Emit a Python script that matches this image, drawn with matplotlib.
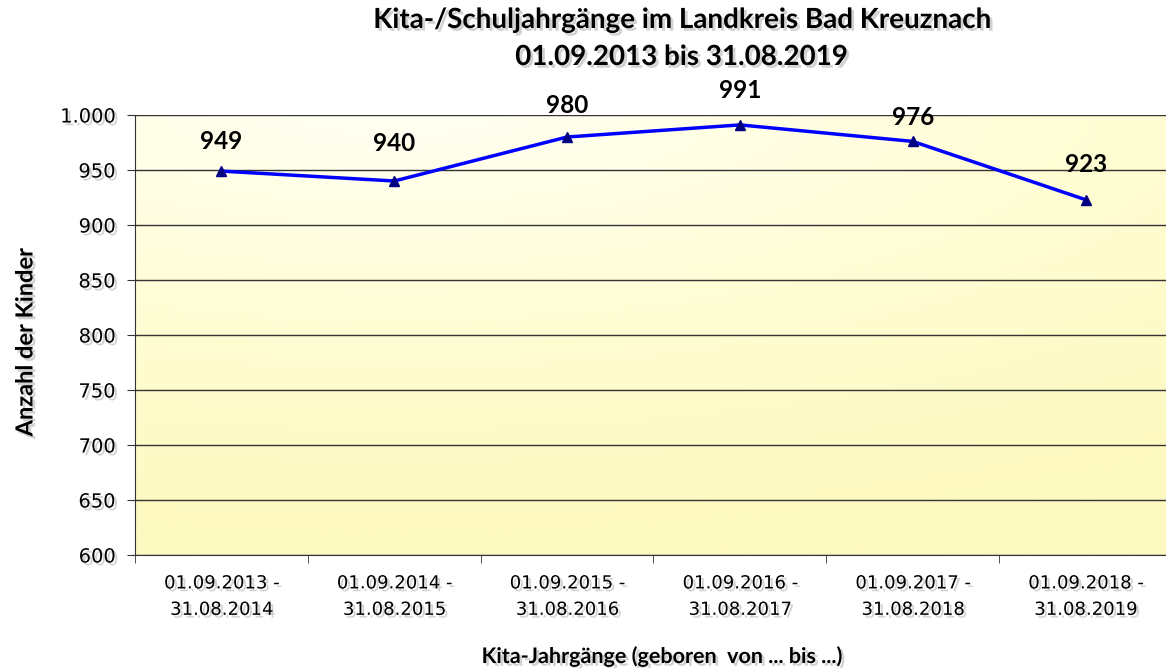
import numpy as np
import matplotlib.pyplot as plt
import matplotlib.patheffects as pe
from matplotlib.colors import LinearSegmentedColormap

# Kita-/Schuljahrgänge im Landkreis Bad Kreuznach
kategorien = ["01.09.2013 -\n31.08.2014", "01.09.2014 -\n31.08.2015",
              "01.09.2015 -\n31.08.2016", "01.09.2016 -\n31.08.2017",
              "01.09.2017 -\n31.08.2018", "01.09.2018 -\n31.08.2019"]
anzahl = [949, 940, 980, 991, 976, 923]
y_ticks = [600, 650, 700, 750, 800, 850, 900, 950, 1000]
y_tick_labels = ["600", "650", "700", "750", "800", "850", "900", "950", "1.000"]

# Abstand der Beschriftung über dem Punkt (in pt), im Original von Hand verschoben
label_abstand = [21, 27, 23, 25, 17, 25]

schmal = ['Lato', 'DejaVu Sans']
schatten = [pe.SimplePatchShadow(offset=(2, -2), shadow_rgbFace='gray', alpha=0.35), pe.Normal()]

fig = plt.figure(figsize=(11.66, 6.68), dpi=100)
ax = fig.add_axes([135 / 1166, 113 / 668, 1037 / 1166, 440 / 668])

# Hintergrund: blassgelb, oben links heller
gx, gy = np.meshgrid(np.linspace(0, 1, 200), np.linspace(0, 1, 200))
d = np.sqrt(((gx - 0.25) * 1.0) ** 2 + ((gy - 1.05) * 1.3) ** 2)
grad = np.clip(d / 1.3, 0, 1)
cmap = LinearSegmentedColormap.from_list("bg", ["#fffff2", "#fffdd4", "#fdf9c0"])
ax.imshow(grad, cmap=cmap, origin='lower', extent=[0, 1, 0, 1],
          transform=ax.transAxes, aspect='auto', zorder=0)

x = np.arange(len(anzahl))
ax.plot(x, anzahl, color='#0000ff', lw=2.5, marker='^', ms=7,
        mfc='#000080', mec='#000080', zorder=3)
for xi, v, off in zip(x, anzahl, label_abstand):
    ax.annotate(str(v), (xi, v), xytext=(0, off), textcoords='offset points',
                ha='center', va='center', fontsize=17.5, fontweight='bold',
                family=schmal, zorder=4)

ax.set_xlim(-0.5, len(anzahl) - 0.5)
ax.set_ylim(600, 1000)
ax.set_yticks(y_ticks)
ax.set_yticklabels(y_tick_labels)
ax.yaxis.grid(True, color='#333333', lw=1)
ax.set_axisbelow(False)
ax.set_xticks(x)
ax.set_xticklabels(kategorien, linespacing=1.6)
ax.set_xticks(np.arange(-0.5, len(anzahl)), minor=True)
ax.tick_params(axis='x', which='major', length=0, pad=14, labelsize=13)
ax.tick_params(axis='x', which='minor', length=6, color='#333333')
ax.tick_params(axis='y', length=6, pad=8, labelsize=14, color='#333333')
for lab in ax.get_xticklabels() + ax.get_yticklabels():
    lab.set_path_effects(schatten)
for s in ['top', 'right']:
    ax.spines[s].set_visible(False)
for s in ['left', 'bottom']:
    ax.spines[s].set_color('#333333')

fig.text(682 / 1166, 1 - 20 / 668, "Kita-/Schuljahrgänge im Landkreis Bad Kreuznach",
         ha='center', va='center', fontsize=20, fontweight='bold', family=schmal,
         path_effects=schatten)
fig.text(682 / 1166, 1 - 57 / 668, "01.09.2013 bis 31.08.2019",
         ha='center', va='center', fontsize=20, fontweight='bold', family=schmal,
         path_effects=schatten)
fig.text(661 / 1166, 1 - 656 / 668, "Kita-Jahrgänge (geboren  von ... bis ...)",
         ha='center', va='center', fontsize=15.5, fontweight='bold', family=schmal,
         path_effects=schatten)
fig.text(25 / 1166, 1 - 342 / 668, "Anzahl der Kinder", rotation=90,
         ha='center', va='center', fontsize=17, fontweight='bold', family=schmal,
         path_effects=schatten)

fig.savefig("out.png", dpi=100)
